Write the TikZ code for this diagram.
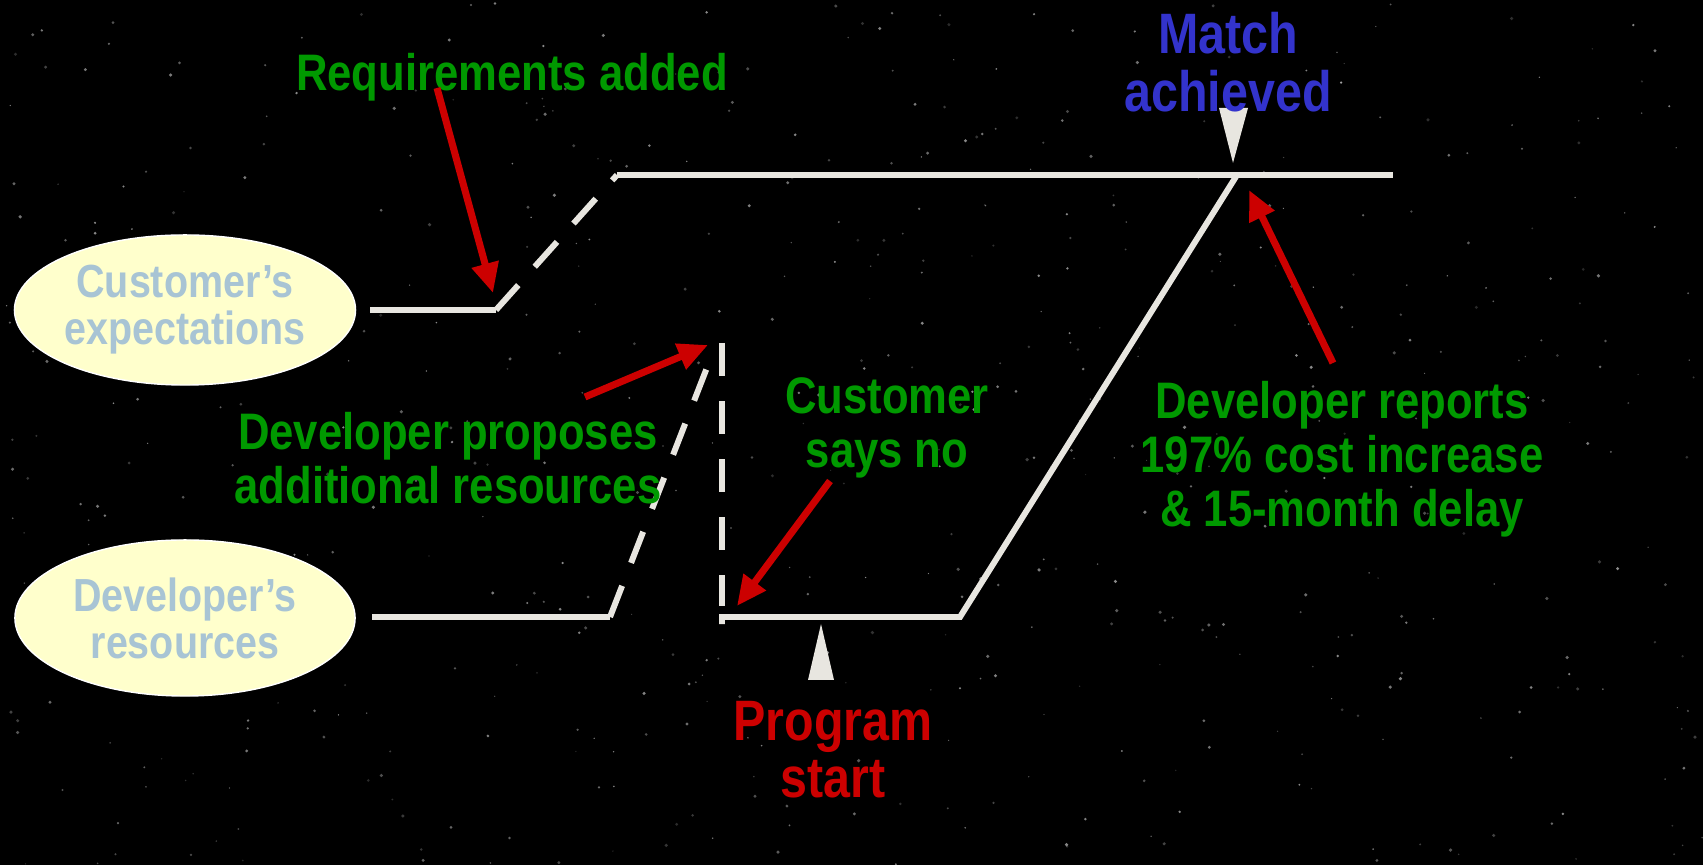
\documentclass[tikz,border=0pt]{standalone}
\usepackage{fontspec}
\setmainfont{Liberation Sans}[FakeStretch=0.85]
\usepackage{tikz}
\usetikzlibrary{positioning}
\usetikzlibrary{arrows.meta}
\usetikzlibrary{shapes,calc}
\definecolor{linegray}{RGB}{232,230,224}
\definecolor{myred}{RGB}{204,0,0}
\definecolor{mygreen}{RGB}{0,153,0}
\definecolor{myblue}{RGB}{51,51,204}
\definecolor{ellfill}{RGB}{255,255,204}
\definecolor{elltext}{RGB}{168,196,212}
\tikzset{
  note/.style={text=mygreen, align=center, font=\bfseries\fontsize{14.6}{15.3}\selectfont},
  bigtext/.style={align=center, font=\bfseries\fontsize{16.2}{16.3}\selectfont},
  track/.style={draw=linegray, line width=1.7pt},
  gap/.style={track, dash pattern=on 9.5pt off 7pt},
  flag/.style={fill=linegray}
}
\begin{document}
\begin{tikzpicture}[x=0.01cm, y=-0.01cm]
\useasboundingbox (0,0) rectangle (1703,865);
\fill[black] (0,0) rectangle (1703,865);
\pgfmathsetseed{42}
\foreach \i in {1,...,600}{
  \pgfmathsetmacro{\sx}{rnd*1703}
  \pgfmathsetmacro{\sy}{rnd*865}
  \pgfmathsetmacro{\sr}{0.6+rnd*1.2}
  \pgfmathsetmacro{\so}{0.15+rnd*0.4}
  \fill[white, opacity=\so] (\sx,\sy) circle[radius=\sr];
}

\begin{scope}[every node/.style={ellipse, fill=ellfill, draw=white, thin, minimum width=3.4cm,
              inner sep=0pt, text=elltext, align=center, font=\bfseries\fontsize{13.2}{13.4}\selectfont}]
    \node[minimum height=1.5cm] (cust) at (185,310) {Customer’s\\expectations};
    \node[minimum height=1.56cm] (dev) at (185,618) {Developer’s\\resources};
\end{scope}

\coordinate (c1) at (370,310);
\coordinate (c2) at (496,310);
\coordinate (c3) at (617,175);
\coordinate (match) at (1237,175);
\coordinate (c4) at (1393,175);
\coordinate (d1) at (372,617);
\coordinate (d2) at (610,617);
\coordinate (d3) at (715,347);
\coordinate (s1) at (722,343);
\coordinate (s2) at (722,617);
\coordinate (s3) at (960,617);

\draw[track] (c1) -- (c2);
\draw[gap] (c2) -- (c3);
\draw[track] (c3) -- (c4);
\draw[track] (d1) -- (d2);
\draw[gap] (d2) -- (d3);
\draw[gap] (s1) -- ([yshift=3pt]s2);
\draw[track] ([yshift=-2pt]s2) -- (s2) -- (s3) -- (match);

\fill[flag] (1219,108) -- (1248,108) -- (1233,163) -- cycle;
\fill[flag] (808,680) -- (834,680) -- (821,624) -- cycle;

\node[bigtext, text=myblue] (matchtxt) at (1228,62) {Match\\achieved};
\node[bigtext, text=myred] (starttxt) at (833,750) {Program\\start};
\node[note] (req) at (512,77) {Requirements added};
\node[note] (prop) at (448,458) {Developer proposes\\additional resources};
\node[note] (no) at (887,428) {Customer\\says no};
\node[note] (rep) at (1342,459) {Developer reports\\197\% cost increase\\\& 15-month delay};

\coordinate (r1) at (437,88);
\coordinate (r2) at (493,293);
\coordinate (p1) at (585,397);
\coordinate (p2) at (708,345);
\coordinate (n1) at (830,481);
\coordinate (n2) at (737,606);
\coordinate (m1) at (1333,363);
\coordinate (m2) at (1249,190);

\begin{scope}[>={Triangle[length=8.5pt,width=7.5pt]},
              every edge/.style={draw=myred, line width=2pt}]
    \path [->] (r1) edge (r2);
    \path [->] (p1) edge (p2);
    \path [->] (n1) edge (n2);
    \path [->] (m1) edge (m2);
\end{scope}
\end{tikzpicture}
\end{document}
